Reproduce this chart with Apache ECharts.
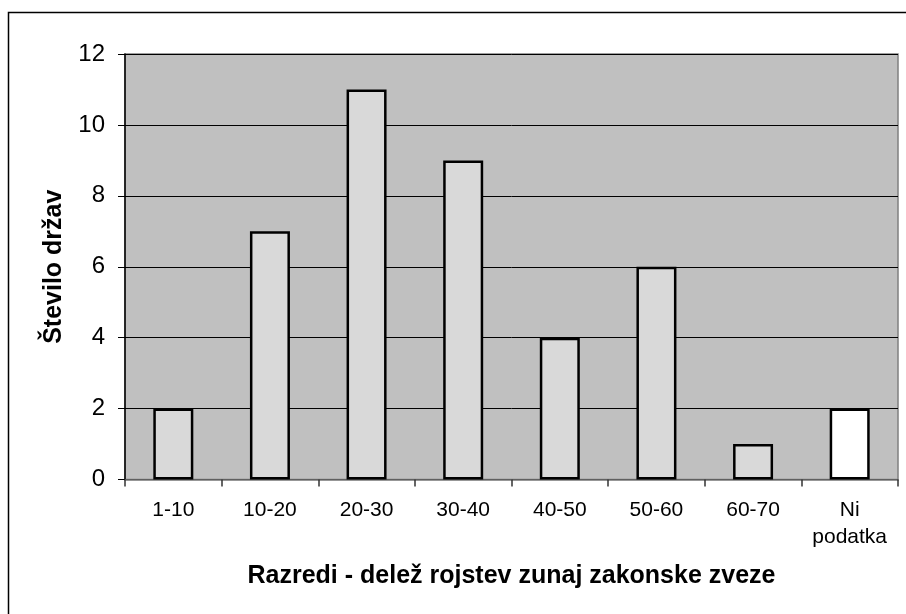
<!DOCTYPE html>
<html>
<head>
<meta charset="utf-8">
<script src="https://cdn.jsdelivr.net/npm/echarts@6/dist/echarts.min.js"></script>
<style>
html,body{margin:0;padding:0;background:#fff;}
#c{width:906px;height:614px;}
</style>
</head>
<body>
<div id="c"></div>
<script>
const categories = ['1-10', '10-20', '20-30', '30-40', '40-50', '50-60', '60-70', 'Ni\npodatka'];
const values = [2, 7, 11, 9, 4, 6, 1, 2];
const yTicks = [0, 2, 4, 6, 8, 10, 12];
const xTitle = 'Razredi - delež rojstev zunaj zakonske zveze';
const yTitle = 'Število držav';

const font = "'Liberation Sans', Arial, sans-serif";
const chart = echarts.init(document.getElementById('c'), null, {renderer: 'canvas'});
chart.setOption({
  animation: false,
  backgroundColor: '#ffffff',
  textStyle: {fontFamily: font},
  graphic: [{
    type: 'rect', z: 100, silent: true,
    shape: {x: 8.5, y: 12.5, width: 1000, height: 1000},
    style: {fill: 'none', stroke: '#000', lineWidth: 1.5}
  }],
  grid: {left: 125, top: 54, right: 8, bottom: 134.5, show: true,
         backgroundColor: '#c0c0c0', borderColor: '#808080', borderWidth: 1.5},
  xAxis: {
    type: 'category', data: categories,
    name: xTitle, nameLocation: 'middle', nameGap: 84,
    nameTextStyle: {fontFamily: font, fontSize: 25, fontWeight: 'bold', color: '#000'},
    axisLine: {lineStyle: {color: '#808080', width: 1.5}},
    axisTick: {show: true, length: 7, lineStyle: {color: '#333', width: 1.5}},
    axisLabel: {fontFamily: font, fontSize: 21, color: '#000', margin: 17, lineHeight: 27, interval: 0}
  },
  yAxis: {
    type: 'value', min: yTicks[0], max: yTicks[yTicks.length - 1], interval: yTicks[1] - yTicks[0],
    name: yTitle, nameLocation: 'middle', nameGap: 58, nameRotate: 90,
    nameTextStyle: {fontFamily: font, fontSize: 25, fontWeight: 'bold', color: '#000'},
    axisLine: {show: true, lineStyle: {color: '#000', width: 1.5}},
    axisTick: {show: true, length: 7, lineStyle: {color: '#000', width: 1}},
    axisLabel: {fontFamily: font, fontSize: 24, color: '#000', margin: 20},
    splitLine: {show: true, lineStyle: {color: '#000', width: 1}}
  },
  series: [{
    type: 'bar', barWidth: 40,
    data: values.map((v, i) => ({
      value: v,
      itemStyle: {color: i === values.length - 1 ? '#ffffff' : '#d9d9d9'}
    })),
    itemStyle: {borderColor: '#000', borderWidth: 2.5}
  }]
});
</script>
</body>
</html>
